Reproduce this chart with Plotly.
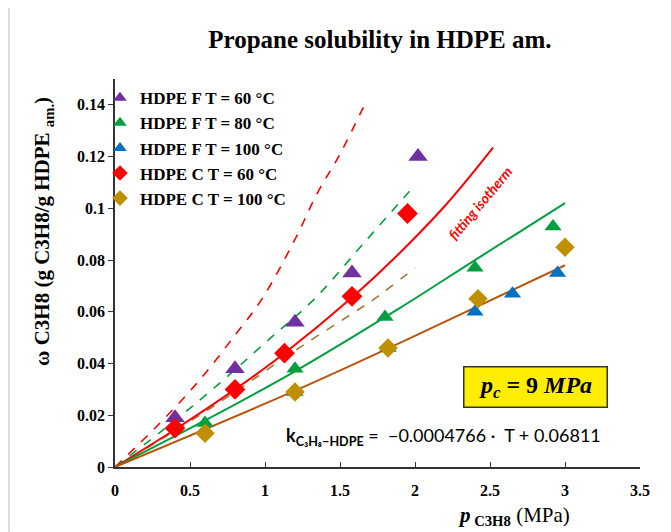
import plotly.graph_objects as go

# measured points (p in MPa, omega in g/g)
p_f60 = [0.4, 0.8, 1.2, 1.58, 2.02]
w_f60 = [0.019, 0.038, 0.056, 0.075, 0.120]
p_f80 = [0.6, 1.2, 1.8, 2.4, 2.92]
w_f80 = [0.017, 0.038, 0.058, 0.077, 0.093]
p_f100 = [1.2, 1.82, 2.4, 2.65, 2.95]
w_f100 = [0.029, 0.046, 0.060, 0.067, 0.075]
p_c60 = [0.4, 0.8, 1.13, 1.58, 1.95]
w_c60 = [0.015, 0.030, 0.044, 0.066, 0.098]
p_c100 = [0.6, 1.2, 1.82, 2.42, 3.0]
w_c100 = [0.013, 0.029, 0.046, 0.065, 0.085]

# fitting isotherms (solid)
fit60_p = [0, 0.4, 0.8, 1.13, 1.58, 1.85, 2.2, 2.52]
fit60_w = [0, 0.0145, 0.030, 0.044, 0.0655, 0.080, 0.101, 0.1235]
fit80_p = [0, 0.6, 1.2, 1.9, 2.4, 3.0]
fit80_w = [0, 0.018, 0.037, 0.0615, 0.080, 0.102]
fit100_p = [0, 1.2, 1.9, 3.0]
fit100_w = [0, 0.0295, 0.048, 0.078]

# dashed curves
dash_red_p = [0, 0.3, 0.57, 0.8, 0.98, 1.2, 1.35, 1.5, 1.68]
dash_red_w = [0, 0.017, 0.034, 0.051, 0.065, 0.088, 0.106, 0.121, 0.142]
dash_green_p = [0, 0.4, 0.73, 1.0, 1.33, 1.65, 2.0]
dash_green_w = [0, 0.018, 0.034, 0.048, 0.065, 0.086, 0.109]
dash_brown_p = [0, 0.4, 0.8, 1.2, 1.6, 1.72, 2.0]
dash_brown_w = [0, 0.014, 0.029, 0.045, 0.060, 0.0646, 0.077]

PURPLE = "#7030A0"
GREEN = "#00A040"
BLUE = "#0070C0"
RED = "#FF0000"
GOLD = "#BF8F00"
BROWN = "#B8560F"
SERIF = "Liberation Serif"

fig = go.Figure()

# lines first
for px_, py_, col, dash in [
    (dash_red_p, dash_red_w, RED, "dash"),
    (dash_green_p, dash_green_w, GREEN, "dash"),
    (dash_brown_p, dash_brown_w, "#9C7A3C", "dash"),
    (fit60_p, fit60_w, RED, "solid"),
    (fit80_p, fit80_w, GREEN, "solid"),
    (fit100_p, fit100_w, BROWN, "solid"),
]:
    fig.add_trace(go.Scatter(
        x=px_, y=py_, mode="lines", showlegend=False, hoverinfo="skip",
        line=dict(color=col, width=2 if dash == "solid" else 1.6, dash=dash,
                  shape="spline"),
    ))

series = [
    ("HDPE F T = 60 °C", p_f60, w_f60, PURPLE, "triangle-up", 17),
    ("HDPE F T = 80 °C", p_f80, w_f80, GREEN, "triangle-up", 15),
    ("HDPE F T = 100 °C", p_f100, w_f100, BLUE, "triangle-up", 15),
    ("HDPE C T = 60 °C", p_c60, w_c60, RED, "diamond", 16),
    ("HDPE C T = 100 °C", p_c100, w_c100, GOLD, "diamond", 15),
]
for name, xs, ys, col, sym, size in series:
    fig.add_trace(go.Scatter(
        x=xs, y=ys, mode="markers", name=name,
        marker=dict(color=col, symbol=sym, size=size, line=dict(width=0)),
    ))

axis_font = dict(family=SERIF, size=16, color="black", weight="bold")

# page body adds ~8px offset, so the figure is a bit smaller and shifted
fig.update_layout(
    width=663, height=524,
    margin=dict(l=107, r=31, t=71, b=65),
    paper_bgcolor="white", plot_bgcolor="white",
    title=dict(text="<b>Propane solubility in HDPE am.</b>",
               font=dict(family=SERIF, size=25, color="black"),
               x=0.561, xanchor="center", y=0.941, yanchor="middle"),
    xaxis=dict(range=[0, 3.5], dtick=0.5, showgrid=False, zeroline=False,
               showline=True, linecolor="#333", linewidth=1.5,
               ticks="inside", ticklen=5, tickcolor="#333",
               tickfont=axis_font, ticklabelstandoff=8),
    yaxis=dict(range=[0, 0.15], tickvals=[0, 0.02, 0.04, 0.06, 0.08, 0.1, 0.12, 0.14],
               ticktext=["0", "0.02", "0.04", "0.06", "0.08", "0.1", "0.12", "0.14"],
               showgrid=False, zeroline=False,
               showline=True, linecolor="#333", linewidth=1.5,
               ticks="outside", ticklen=5, tickcolor="#333",
               tickfont=axis_font),
    legend=dict(x=-0.0286, y=0.997, xanchor="left", yanchor="top",
                font=dict(family=SERIF, size=17, color="black", weight="bold"),
                bgcolor="rgba(0,0,0,0)", itemwidth=30, tracegroupgap=0,
                itemsizing="constant"),
    shapes=[dict(type="line", xref="paper", yref="paper",
                 x0=-0.2019, x1=-0.2019, y0=-0.1675, y1=1.25,
                 line=dict(color="#BBBBBB", width=1))],
)

fig.add_annotation(
    xref="paper", yref="paper", x=-0.137, y=0.606, textangle=-90,
    xanchor="center", yanchor="middle", showarrow=False,
    text="<b>ω C3H8 (g C3H8/g HDPE <sub>am.</sub>)</b>",
    font=dict(family=SERIF, size=21, color="black"),
)
fig.add_annotation(
    xref="paper", yref="paper", x=0.76, y=-0.126,
    xanchor="center", yanchor="middle", showarrow=False,
    text="<b><i>p</i></b><sub><b> C3H8</b></sub> (MPa)",
    font=dict(family=SERIF, size=21, color="black"),
)
fig.add_annotation(
    x=2.43, y=0.102, xanchor="center", yanchor="middle",
    showarrow=False, textangle=-50,
    text="<i>fitting isotherm</i>",
    font=dict(family="Lato", size=14, color=RED, weight="bold"),
)
fig.add_annotation(
    x=2.803, y=0.0308, xanchor="center", yanchor="middle", showarrow=False,
    text="<b><i>p<sub>c</sub></i> = 9 <i>MPa</i></b>",
    font=dict(family=SERIF, size=24, color="black"),
    bgcolor="#FFEE00", bordercolor="#333", borderwidth=1.5,
    width=140, height=37,
)
fig.add_annotation(
    x=2.19, y=0.0116, xanchor="center", yanchor="middle", showarrow=False,
    text="<b>k<sub>C₃H₈−HDPE</sub></b> =  −0.0004766 ·  T + 0.06811",
    font=dict(family="Lato", size=18, color="black"),
)

fig.write_html("out.html")
